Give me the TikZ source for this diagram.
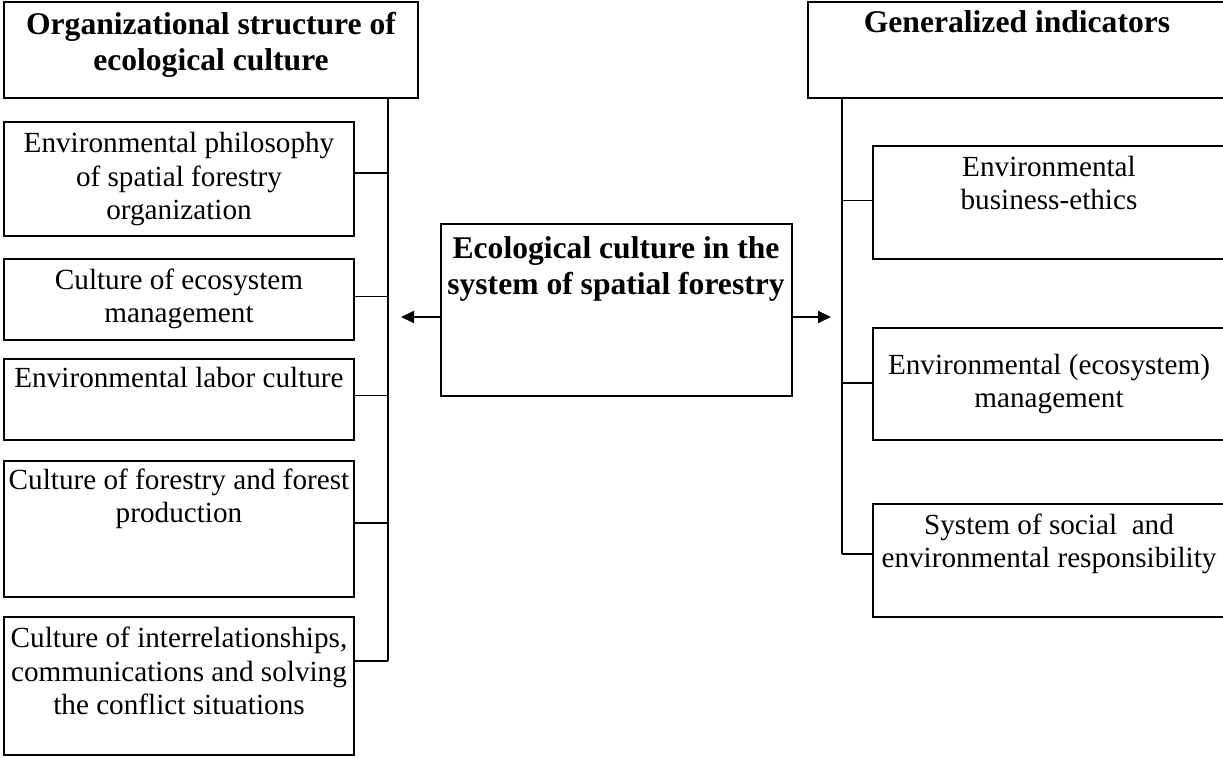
\documentclass[tikz,border=0pt]{standalone}
\usepackage{fontspec}
\setmainfont{Liberation Serif}[BoldFont={Liberation Serif Bold}]
\usetikzlibrary{arrows.meta,calc}
\begin{document}
\begin{tikzpicture}[x=0.5pt,y=-0.5pt,
  box/.style={draw, line width=0.7pt, anchor=north west, inner sep=0pt, outer sep=0pt, minimum width=175pt},
  txt/.style={anchor=base, inner sep=0pt, align=center, font=\fontsize{14.6}{16.75}\selectfont},
  btxt/.style={anchor=base, inner sep=0pt, align=center, font=\fontsize{15.8}{18.25}\selectfont\bfseries},
  conn/.style={line width=0.55pt},
  arr/.style={line width=0.9pt, -{Triangle[length=6.5pt,width=6pt]}}]
\useasboundingbox (0,0) rectangle (1223,758);
% headers
\node[box, minimum width=207pt, minimum height=48pt] (lt) at (4,2) {};
\node[btxt] (ltt) at (211,71) {Organizational structure of\\ecological culture};
\node[box, minimum width=209pt, minimum height=48pt] (rt) at (808,2) {};
\node[btxt] (rtt) at (1017,33) {Generalized indicators};
% left boxes
\node[box, minimum height=57pt] (b1) at (4,122) {};
\node[txt] (t1) at (179,220) {Environmental philosophy\\of spatial forestry\\organization};
\node[box, minimum height=40.5pt] (b2) at (4,259) {};
\node[txt] (t2) at (179,323) {Culture of ecosystem\\management};
\node[box, minimum height=40.5pt] (b3) at (4,359) {};
\node[txt] (t3) at (179,388) {Environmental labor culture};
\node[box, minimum height=68pt] (b4) at (4,461) {};
\node[txt] (t4) at (179,523) {Culture of forestry and forest\\production};
\node[box, minimum height=69pt] (b5) at (4,617) {};
\node[txt] (t5) at (179,715) {Culture of interrelationships,\\communications and solving\\the conflict situations};
% centre
\node[box, minimum width=175.5pt, minimum height=86pt] (c) at (441,224) {};
\node[btxt] (ct) at (616,295) {Ecological culture in the\\system of spatial forestry};
% right boxes
\node[box, minimum width=176.5pt, minimum height=56.5pt] (r1) at (873,146) {};
\node[txt] (s1) at (1049,210) {Environmental\\business-ethics};
\node[box, minimum width=176.5pt, minimum height=56pt] (r2) at (873,328) {};
\node[txt] (s2) at (1049,408) {Environmental (ecosystem)\\management};
\node[box, minimum width=176.5pt, minimum height=56.5pt] (r3) at (873,504) {};
\node[txt] (s3) at (1049,568) {System of social~ and\\environmental responsibility};
% left trunk
\coordinate (lv) at (388,661);
\draw[conn] (lt.south -| lv) -- (lv);
\draw[conn] ($(b1.east)+(0,-6)$) -- ($(b1.east -| lv)+(0,-6)$);
\draw[conn] ($(b2.east)+(0,-3)$) -- ($(b2.east -| lv)+(0,-3)$);
\draw[conn] ($(b3.east)+(0,-4)$) -- ($(b3.east -| lv)+(0,-4)$);
\draw[conn] ($(b4.east)+(0,-6)$) -- ($(b4.east -| lv)+(0,-6)$);
\draw[conn] (lv -| b5.east) -- (lv);
% right trunk
\coordinate (rv) at (842,554);
\draw[conn] (rt.south -| rv) -- (rv);
\draw[conn] ($(r1.west)+(0,-2)$) -- ($(r1.west -| rv)+(0,-2)$);
\draw[conn] ($(r2.west)+(0,-1)$) -- ($(r2.west -| rv)+(0,-1)$);
\draw[conn] (rv -| r3.west) -- (rv);
% arrows
\coordinate (la) at (401,317);
\coordinate (ra) at (831,317);
\draw[arr] (c.west |- la) -- (la);
\draw[arr] (c.east |- ra) -- (ra);
\end{tikzpicture}
\end{document}
